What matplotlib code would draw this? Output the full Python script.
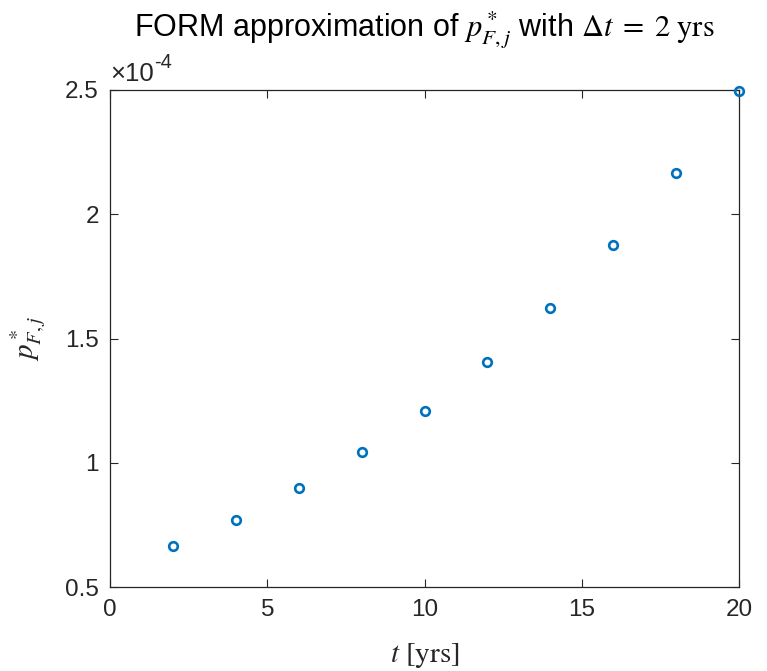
import matplotlib
matplotlib.use("Agg")
import matplotlib.pyplot as plt

# data (p values in units of 1e-4)
t_yrs = [2, 4, 6, 8, 10, 12, 14, 16, 18, 20]
p_F = [0.663, 0.771, 0.897, 1.042, 1.210, 1.404, 1.623, 1.877, 2.167, 2.497]
x_ticks = [0, 5, 10, 15, 20]
y_ticks = [0.5, 1, 1.5, 2, 2.5]
y_ticklabels = ["0.5", "1", "1.5", "2", "2.5"]

BLUE = "#0072BD"
AXC = "#262626"
SANS = ["Liberation Sans", "DejaVu Sans"]

plt.rcParams["font.family"] = SANS
plt.rcParams["mathtext.fontset"] = "stix"

W, H = 767, 671
fig = plt.figure(figsize=(W / 100, H / 100), dpi=100)
ax = fig.add_axes([110 / W, 1 - 587 / H, 629 / W, 497 / H])

ax.plot(t_yrs, p_F, "o", mfc="none", mec=BLUE, ms=6.2, mew=1.9, clip_on=False, zorder=5)

ax.set_xlim(0, 20)
ax.set_ylim(0.5, 2.5)
ax.set_xticks(x_ticks)
ax.set_yticks(y_ticks)
ax.set_yticklabels(y_ticklabels)
ax.tick_params(direction="in", length=6, width=0.8, colors=AXC, labelsize=17.5,
               top=True, right=True, pad=8)
ax.tick_params(axis="x", pad=8.5)
for s in ax.spines.values():
    s.set_color(AXC)
    s.set_linewidth(0.9)

# MATLAB-style exponent label
exp_txt = ax.text(0.0, 1.008, "\u00d710", transform=ax.transAxes, fontsize=18.5,
                  color=AXC, ha="left", va="bottom")
ax.annotate("-4", xy=(1.0, 0.58), xycoords=exp_txt, fontsize=14.5, color=AXC,
            ha="left", va="bottom")

ax.set_xlabel(r"$t\ [\mathrm{yrs}]$", fontsize=21, color=AXC)
ax.xaxis.set_label_coords(0.5, -0.137)
ax.set_ylabel(r"$p^*_{F,j}$", fontsize=21, color=AXC)
ax.yaxis.set_label_coords(-0.13, 0.5)
ax.xaxis.label.set_va("center")
ax.yaxis.label.set_va("center")

ax.set_title(r"FORM approximation of $p^*_{F,j}$ with $\Delta t\;=\;2\ \mathrm{yrs}$",
             fontsize=22, color="black", y=1.108, pad=0)

fig.savefig("out.png", dpi=100, facecolor="white")
